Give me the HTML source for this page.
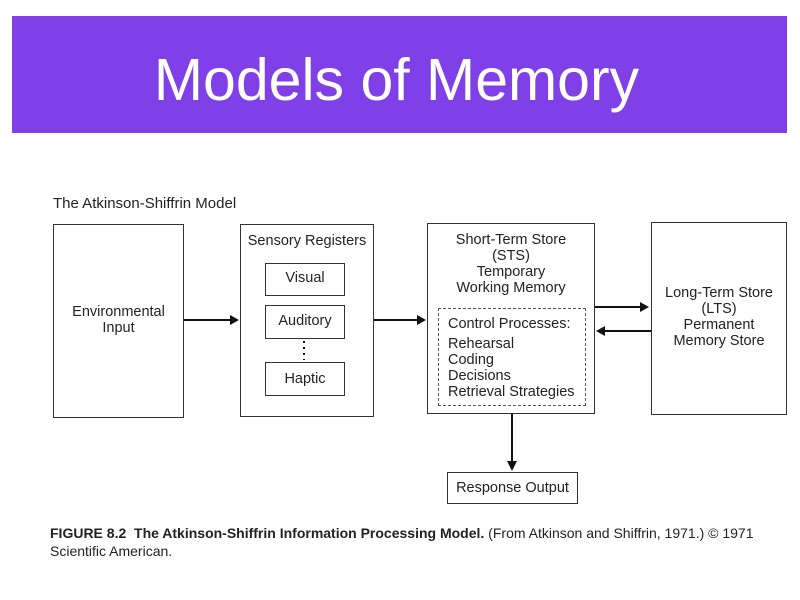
<!DOCTYPE html>
<html><head><style>
body{margin:0;width:800px;height:600px;background:#fff;position:relative;overflow:hidden;font-family:"Liberation Sans",sans-serif;}
.hd{position:absolute;left:12px;top:16px;width:775px;height:117px;background:#8040e8;}
.hd div{position:absolute;left:0;right:0;top:31px;text-align:center;color:#fff;font-size:59px;line-height:66px;margin-left:-6px;}
.b{position:absolute;border:1.5px solid #333;box-sizing:border-box;}
.t{position:absolute;font-size:14.5px;color:#222;line-height:16px;text-align:center;white-space:nowrap;}
svg{position:absolute;left:0;top:0;}
</style></head><body>
<div class="hd"><div>Models of Memory</div></div>
<div class="t" style="left:53px;top:196px;text-align:left;font-size:15px">The Atkinson-Shiffrin Model</div>
<div class="b" style="left:53px;top:224px;width:131px;height:194px"></div>
<div class="t" style="left:53px;top:304px;width:131px">Environmental<br>Input</div>
<div class="b" style="left:240px;top:224px;width:134px;height:193px"></div>
<div class="t" style="left:240px;top:233px;width:134px">Sensory Registers</div>
<div class="b" style="left:265px;top:263px;width:80px;height:33px"></div>
<div class="t" style="left:265px;top:270px;width:80px">Visual</div>
<div class="b" style="left:265px;top:305px;width:80px;height:34px"></div>
<div class="t" style="left:265px;top:313px;width:80px">Auditory</div>
<div class="b" style="left:265px;top:362px;width:80px;height:34px"></div>
<div class="t" style="left:265px;top:371px;width:80px">Haptic</div>
<div class="b" style="left:427px;top:223px;width:168px;height:191px"></div>
<div class="t" style="left:427px;top:232px;width:168px">Short-Term Store<br>(STS)<br>Temporary<br>Working Memory</div>
<div class="b" style="left:438px;top:308px;width:148px;height:98px;border:1.5px dashed #555"></div>
<div class="t" style="left:448px;top:316px;text-align:left">Control Processes:</div>
<div class="t" style="left:448px;top:336px;text-align:left">Rehearsal<br>Coding<br>Decisions<br>Retrieval Strategies</div>
<div class="b" style="left:651px;top:222px;width:136px;height:193px"></div>
<div class="t" style="left:651px;top:285px;width:136px">Long-Term Store<br>(LTS)<br>Permanent<br>Memory Store</div>
<div class="b" style="left:447px;top:472px;width:131px;height:32px"></div>
<div class="t" style="left:447px;top:480px;width:131px">Response Output</div>
<div class="t" style="left:50px;top:524px;text-align:left;line-height:18px;font-size:14px"><b>FIGURE 8.2 &nbsp;The Atkinson-Shiffrin Information Processing Model.</b> (From Atkinson and Shiffrin, 1971.) © 1971<br>Scientific American.</div>
<svg width="800" height="600">
<g stroke="#111" stroke-width="2" fill="none">
<line x1="184" y1="320" x2="232" y2="320"/>
<line x1="374" y1="320" x2="419" y2="320"/>
<line x1="595" y1="307" x2="642" y2="307"/>
<line x1="651" y1="331" x2="604" y2="331"/>
<line x1="512" y1="414" x2="512" y2="462"/>
<line x1="304" y1="341" x2="304" y2="360" stroke-dasharray="2 4"/>
</g>
<g fill="#111">
<polygon points="239,320 230,315 230,325"/>
<polygon points="426,320 417,315 417,325"/>
<polygon points="649,307 640,302 640,312"/>
<polygon points="596,331 605,326 605,336"/>
<polygon points="512,471 507,461 517,461"/>
</g>
</svg>
</body></html>
